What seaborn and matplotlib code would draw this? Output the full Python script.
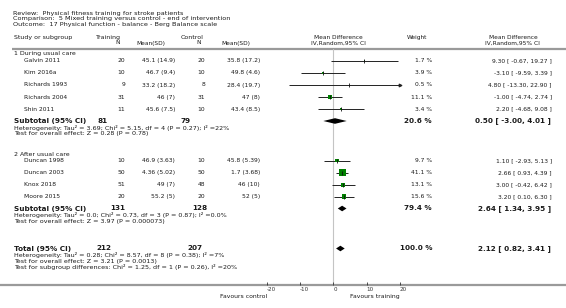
import matplotlib
matplotlib.use("Agg")
import matplotlib.pyplot as plt
import seaborn as sns
import pandas as pd
import numpy as np

sns.set_theme(style="white")
plt.rcParams['font.family'] = ['DejaVu Sans']

# ---------------- data ----------------
title_lines = [
    "Review:  Physical fitness training for stroke patients",
    "Comparison:  5 Mixed training versus control - end of intervention",
    "Outcome:  17 Physical function - balance - Berg Balance scale",
]
group_names = ["1 During usual care", "2 After usual care"]
studies = ["Galvin 2011", "Kim 2016a", "Richards 1993", "Richards 2004", "Shin 2011",
           "Duncan 1998", "Duncan 2003", "Knox 2018", "Moore 2015"]
subgroup = [1, 1, 1, 1, 1, 2, 2, 2, 2]
train_n = [20, 10, 9, 31, 11, 10, 50, 51, 20]
train_msd = ["45.1 (14.9)", "46.7 (9.4)", "33.2 (18.2)", "46 (7)", "45.6 (7.5)",
             "46.9 (3.63)", "4.36 (5.02)", "49 (7)", "55.2 (5)"]
ctrl_n = [20, 10, 8, 31, 10, 10, 50, 48, 20]
ctrl_msd = ["35.8 (17.2)", "49.8 (4.6)", "28.4 (19.7)", "47 (8)", "43.4 (8.5)",
            "45.8 (5.39)", "1.7 (3.68)", "46 (10)", "52 (5)"]
md = [9.30, -3.10, 4.80, -1.00, 2.20, 1.10, 2.66, 3.00, 3.20]
ci_lo = [-0.67, -9.59, -13.30, -4.74, -4.68, -2.93, 0.93, -0.42, 0.10]
ci_hi = [19.27, 3.39, 22.90, 2.74, 9.08, 5.13, 4.39, 6.42, 6.30]
weight = [1.7, 3.9, 0.5, 11.1, 3.4, 9.7, 41.1, 13.1, 15.6]

pooled_labels = ["Subtotal (95% CI)", "Subtotal (95% CI)", "Total (95% CI)"]
pooled_train_n = [81, 131, 212]
pooled_ctrl_n = [79, 128, 207]
pooled_md = [0.50, 2.64, 2.12]
pooled_lo = [-3.00, 1.34, 0.82]
pooled_hi = [4.01, 3.95, 3.41]
pooled_weight = [20.6, 79.4, 100.0]
pooled_notes = [
    ["Heterogeneity: Tau\u00b2 = 3.69; Chi\u00b2 = 5.15, df = 4 (P = 0.27); I\u00b2 =22%",
     "Test for overall effect: Z = 0.28 (P = 0.78)"],
    ["Heterogeneity: Tau\u00b2 = 0.0; Chi\u00b2 = 0.73, df = 3 (P = 0.87); I\u00b2 =0.0%",
     "Test for overall effect: Z = 3.97 (P = 0.000073)"],
    ["Heterogeneity: Tau\u00b2 = 0.28; Chi\u00b2 = 8.57, df = 8 (P = 0.38); I\u00b2 =7%",
     "Test for overall effect: Z = 3.21 (P = 0.0013)",
     "Test for subgroup differences: Chi\u00b2 = 1.25, df = 1 (P = 0.26), I\u00b2 =20%"],
]
x_ticks = [-20, -10, 0, 10, 20]
favours_left = "Favours control"
favours_right = "Favours training"

# ---------------- layout (pixels) ----------------
W, H = 566, 308
group_y = [54, 155]
study_y = [60.7, 72.8, 85.0, 97.1, 109.3, 160.7, 172.6, 184.6, 196.6]
pooled_y = [121.0, 208.5, 248.5]
pooled_n_x = [(97, 180), (110, 192), (96, 187)]
note_offset, note_step = 7.0, 5.9
axis_y, header_line_y = 285, 48.5
x0_px, px_per_unit = 333.33, 3.3333
fx_left = x0_px + x_ticks[0] * px_per_unit
fx_right = x0_px + x_ticks[-1] * px_per_unit

TXT = '#1a1a1a'
FS = 4.3
FS_B = 5.2

fig = plt.figure(figsize=(W / 100, H / 100), dpi=100)
bg = fig.add_axes([0, 0, 1, 1])
bg.set_xlim(0, W)
bg.set_ylim(H, 0)
bg.axis('off')


def T(x, y, s, ha='left', size=FS, bold=False, color=TXT):
    bg.text(x, y, s, ha=ha, va='center', fontsize=size,
            fontweight='bold' if bold else 'normal', color=color)


# title
for i, line in enumerate(title_lines):
    T(13, 13 + i * 5.6, line, size=4.65)

# headers
T(14, 38, "Study or subgroup", size=4.5)
T(108, 37.5, "Training", ha='center', size=4.5)
T(120, 43, "N", ha='right', size=4.2)
T(165, 43, "Mean(SD)", ha='right', size=4.2)
T(192, 37.5, "Control", ha='center', size=4.5)
T(201, 43, "N", ha='right', size=4.2)
T(250, 43, "Mean(SD)", ha='right', size=4.2)
T(338, 37.3, "Mean Difference", ha='center', size=4.2)
T(338, 43, "IV,Random,95% CI", ha='center', size=4.2)
T(417, 37.3, "Weight", ha='center', size=4.2)
T(513, 37.3, "Mean Difference", ha='center', size=4.2)
T(512, 43, "IV,Random,95% CI", ha='center', size=4.2)
bg.plot([12, W], [header_line_y, header_line_y], color='#9a9a9a', lw=1.6,
        solid_capstyle='butt')

# group labels
for gy, gname in zip(group_y, group_names):
    T(14, gy, gname, size=4.5)

# study rows text
for i in range(len(studies)):
    y = study_y[i]
    T(24, y, studies[i], size=FS)
    T(125, y, str(train_n[i]), ha='right', size=FS)
    T(175, y, train_msd[i], ha='right', size=FS)
    T(205, y, str(ctrl_n[i]), ha='right', size=FS)
    T(260, y, ctrl_msd[i], ha='right', size=FS)
    T(432, y, f"{weight[i]:.1f} %", ha='right', size=FS)
    T(552, y, f"{md[i]:.2f} [ {ci_lo[i]:.2f}, {ci_hi[i]:.2f} ]", ha='right', size=FS)

# pooled rows text
for j in range(3):
    y = pooled_y[j]
    T(14, y, pooled_labels[j], size=FS_B, bold=True)
    T(pooled_n_x[j][0], y, str(pooled_train_n[j]), size=FS_B, bold=True)
    T(pooled_n_x[j][1], y, str(pooled_ctrl_n[j]), size=FS_B, bold=True)
    T(432, y, f"{pooled_weight[j]:.1f} %", ha='right', size=FS_B, bold=True)
    T(551, y, f"{pooled_md[j]:.2f} [ {pooled_lo[j]:.2f}, {pooled_hi[j]:.2f} ]",
      ha='right', size=FS_B, bold=True)
    for k, note in enumerate(pooled_notes[j]):
        T(14, y + note_offset + k * note_step, note, size=4.6)

# axis line (full width) and favours labels
bg.plot([0, W], [axis_y, axis_y], color='#9a9a9a', lw=1.6, solid_capstyle='butt')
T(fx_left, 296.5, favours_left, ha='right', size=4.4)
T(fx_right, 296.5, favours_right, ha='right', size=4.4)

# ---------------- forest axes ----------------
ax = fig.add_axes([fx_left / W, (H - axis_y) / H, (fx_right - fx_left) / W,
                   (axis_y - header_line_y) / H])
ax.set_xlim(x_ticks[0], x_ticks[-1])
ax.set_ylim(axis_y, header_line_y)
ax.patch.set_alpha(0)
for sp in ax.spines.values():
    sp.set_visible(False)
ax.set_yticks([])
ax.set_xticks(x_ticks)
ax.set_xticklabels([str(t) for t in x_ticks])
ax.tick_params(axis='x', direction='in', length=2.5, width=0.6, colors='#333333',
               labelsize=4.1, pad=1.2, bottom=True)
for lab in ax.get_xticklabels():
    lab.set_horizontalalignment('left')

ax.axvline(0, color='#c4c4c4', lw=0.8, zorder=0)

df = pd.DataFrame({"study": studies, "md": md, "lo": ci_lo, "hi": ci_hi,
                   "weight": weight, "y": study_y})
lo_c = df["lo"].clip(lower=x_ticks[0])
hi_c = df["hi"].clip(upper=x_ticks[-1])
ax.hlines(df["y"], lo_c, hi_c, color='#222222', lw=0.7, zorder=2)
right_clip = df[df["hi"] > x_ticks[-1]]
if len(right_clip):
    ax.scatter(np.full(len(right_clip), x_ticks[-1]), right_clip["y"], marker='>',
               s=3, color='#222222', zorder=3, clip_on=False)
left_clip = df[df["lo"] < x_ticks[0]]
if len(left_clip):
    ax.scatter(np.full(len(left_clip), x_ticks[0]), left_clip["y"], marker='<',
               s=3, color='#222222', zorder=3, clip_on=False)

sns.scatterplot(data=df, x="md", y="y", size="weight", sizes=(0, 25.4),
                size_norm=(0, max(weight)), marker='s', color='#008000',
                edgecolor='none', linewidth=0, legend=False, ax=ax, zorder=3)
sns.scatterplot(data=df, x="md", y="y", marker='|', s=5, color='#111111',
                linewidth=0.6, legend=False, ax=ax, zorder=4)
ax.set_xlabel('')
ax.set_ylabel('')
ax.set_ylim(axis_y, header_line_y)
ax.set_xlim(x_ticks[0], x_ticks[-1])

half_h = 2.8
for j in range(3):
    y = pooled_y[j]
    ax.fill([pooled_lo[j], pooled_md[j], pooled_hi[j], pooled_md[j]],
            [y, y - half_h, y, y + half_h], color='black', lw=0, zorder=4)

fig.savefig("out.png", dpi=100)
